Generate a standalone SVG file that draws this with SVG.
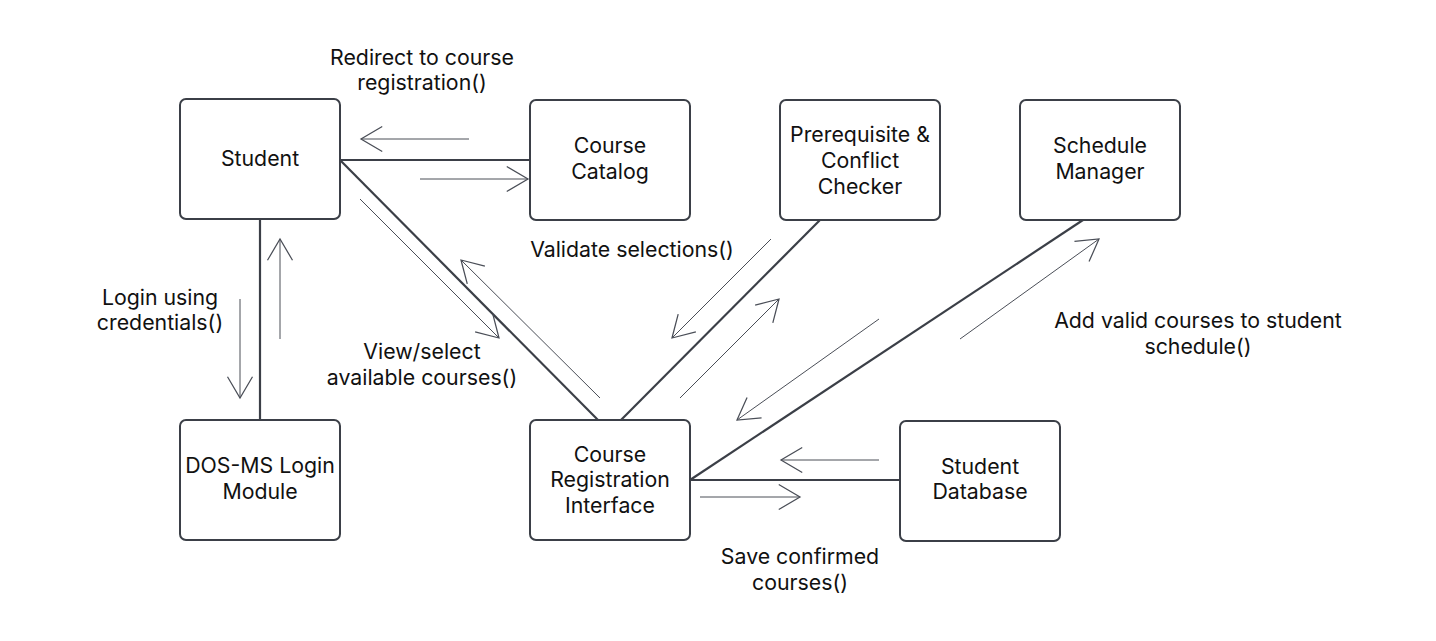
<svg xmlns="http://www.w3.org/2000/svg" width="1436" height="641" viewBox="0 0 1436 641">
<style>
.box{fill:#ffffff;stroke:#3b3f47;stroke-width:2}
.conn{stroke:#3b3f47;stroke-width:2.2;fill:none}
.msg{stroke:#4a4e57;stroke-width:1;fill:none;marker-end:url(#ah)}
text{font-family:Inter,"Liberation Sans",sans-serif;font-size:21.3px;fill:#111111;text-anchor:middle}
</style>
<defs>
<marker id="ah" markerUnits="userSpaceOnUse" markerWidth="30" markerHeight="30" viewBox="-20 -12 24 24" refX="0" refY="0" orient="auto" overflow="visible">
<path d="M-17,-10 L0,0 L-17,10" fill="none" stroke="#4a4e57" stroke-width="1"/>
</marker>
</defs>
<rect width="1436" height="641" fill="#ffffff"/>
<g id="connectors">
<line class="conn" x1="340" y1="160" x2="530" y2="160"/>
<line class="conn" x1="260" y1="219" x2="260" y2="420"/>
<line class="conn" x1="340" y1="160" x2="598" y2="420"/>
<line class="conn" x1="820" y1="220" x2="621" y2="420"/>
<line class="conn" x1="1083" y1="220" x2="690" y2="480"/>
<line class="conn" x1="690" y1="480" x2="900" y2="480"/>
<line class="msg" x1="469" y1="139" x2="361" y2="139"/>
<line class="msg" x1="420" y1="179" x2="528" y2="179"/>
<line class="msg" x1="240" y1="299" x2="240" y2="398"/>
<line class="msg" x1="280" y1="339" x2="280" y2="239"/>
<line class="msg" x1="360" y1="199" x2="499" y2="338"/>
<line class="msg" x1="600" y1="398" x2="461" y2="260"/>
<line class="msg" x1="771" y1="239" x2="672" y2="338"/>
<line class="msg" x1="680" y1="398" x2="779" y2="299"/>
<line class="msg" x1="879" y1="319" x2="737" y2="420"/>
<line class="msg" x1="960" y1="339" x2="1099" y2="239"/>
<line class="msg" x1="879" y1="460" x2="781" y2="460"/>
<line class="msg" x1="700" y1="497" x2="800" y2="497"/>
</g>
<g id="labels">
<text x="422" y="65">Redirect to course</text>
<text x="422" y="90">registration()</text>
<text x="160" y="305">Login using</text>
<text x="160" y="330">credentials()</text>
<text x="422" y="359">View/select</text>
<text x="422" y="385">available courses()</text>
<text x="632" y="257">Validate selections()</text>
<text x="1198" y="328">Add valid courses to student</text>
<text x="1198" y="354">schedule()</text>
<text x="800" y="564">Save confirmed</text>
<text x="800" y="590">courses()</text>
</g>
<g id="student">
<rect class="box" x="180" y="99" width="160" height="120" rx="6"/>
<text x="260" y="166">Student</text>
</g>
<g id="course-catalog">
<rect class="box" x="530" y="100" width="160" height="120" rx="6"/>
<text x="610" y="153">Course</text>
<text x="610" y="179">Catalog</text>
</g>
<g id="prereq-checker">
<rect class="box" x="780" y="100" width="160" height="120" rx="6"/>
<text x="860" y="142">Prerequisite &amp;</text>
<text x="860" y="168">Conflict</text>
<text x="860" y="194">Checker</text>
</g>
<g id="schedule-manager">
<rect class="box" x="1020" y="100" width="160" height="120" rx="6"/>
<text x="1100" y="153">Schedule</text>
<text x="1100" y="179">Manager</text>
</g>
<g id="login-module">
<rect class="box" x="180" y="420" width="160" height="120" rx="6"/>
<text x="260" y="473">DOS-MS Login</text>
<text x="260" y="499">Module</text>
</g>
<g id="registration-interface">
<rect class="box" x="530" y="420" width="160" height="120" rx="6"/>
<text x="610" y="462">Course</text>
<text x="610" y="487">Registration</text>
<text x="610" y="513">Interface</text>
</g>
<g id="student-database">
<rect class="box" x="900" y="421" width="160" height="120" rx="6"/>
<text x="980" y="474">Student</text>
<text x="980" y="499">Database</text>
</g>
</svg>
